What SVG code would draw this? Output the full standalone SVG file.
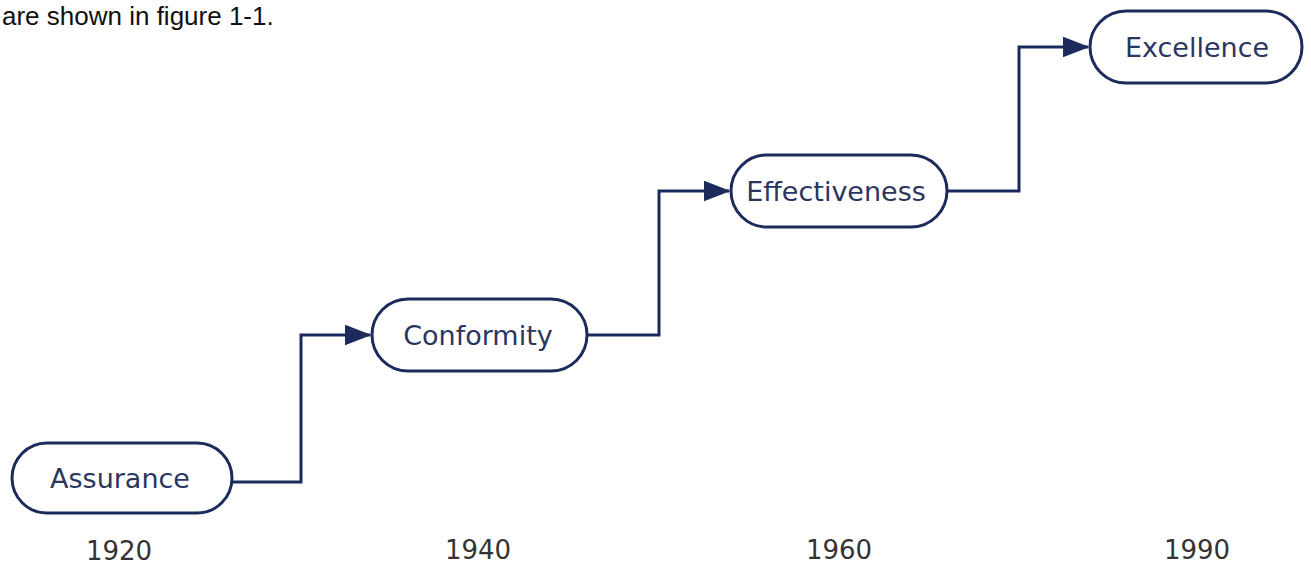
<svg xmlns="http://www.w3.org/2000/svg" width="1311" height="572" viewBox="0 0 1311 572">
<style>
.node{fill:#ffffff;stroke:#1c2a5c;stroke-width:3}
.lbl{font-family:"DejaVu Sans",sans-serif;font-size:27px;fill:#2b3660;text-anchor:middle;dominant-baseline:central}
.yr{font-family:"DejaVu Sans",sans-serif;font-size:26px;fill:#333333;text-anchor:middle}
.conn{fill:none;stroke:#1c2a5c;stroke-width:3}
</style>
<defs>
<marker id="ah" markerWidth="9" markerHeight="7" refX="8.5" refY="3.5" orient="auto" markerUnits="strokeWidth">
<path d="M0,0 L9,3.5 L0,7 Z" fill="#1c2a5c"/>
</marker>
</defs>
<rect width="1311" height="572" fill="#ffffff"/>
<text x="2" y="25" font-family="Liberation Sans, Arial, sans-serif" font-size="26" fill="#111">are shown in figure 1-1.</text>
<g id="connectors">
<path class="conn" d="M232,482 H301 V335 H370" marker-end="url(#ah)"/>
<path class="conn" d="M587,335 H659 V191 H729" marker-end="url(#ah)"/>
<path class="conn" d="M947,191 H1019 V47 H1088" marker-end="url(#ah)"/>
</g>
<g id="assurance">
<rect class="node" x="12" y="443" width="220" height="70" rx="35"/>
<text class="lbl" x="120" y="478">Assurance</text>
</g>
<g id="conformity">
<rect class="node" x="372" y="299" width="215" height="72" rx="36"/>
<text class="lbl" x="478" y="335">Conformity</text>
</g>
<g id="effectiveness">
<rect class="node" x="731" y="155" width="216" height="72" rx="36"/>
<text class="lbl" x="836" y="191">Effectiveness</text>
</g>
<g id="excellence">
<rect class="node" x="1090" y="11" width="212" height="72" rx="36"/>
<text class="lbl" x="1197" y="47">Excellence</text>
</g>
<g id="years">
<text class="yr" x="119" y="560">1920</text>
<text class="yr" x="478" y="559">1940</text>
<text class="yr" x="839" y="559">1960</text>
<text class="yr" x="1197" y="559">1990</text>
</g>
</svg>
